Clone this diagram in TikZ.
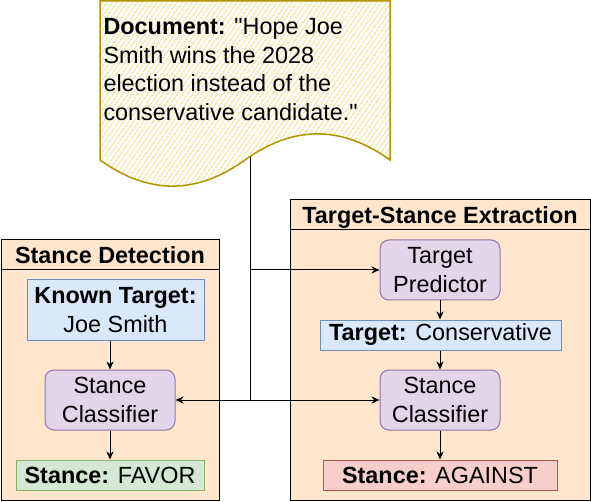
\documentclass[tikz,border=0pt]{standalone}
\usepackage{fontspec}
\setmainfont{Liberation Sans}[Ligatures=TeXOff]
\usetikzlibrary{arrows.meta,patterns.meta}
\definecolor{docstroke}{HTML}{B09500}
\definecolor{dochatch}{HTML}{EEDA6A}
\definecolor{panel}{HTML}{FFE6CC}
\definecolor{bluef}{HTML}{DAE8FC}\definecolor{blues}{HTML}{6C8EBF}
\definecolor{purf}{HTML}{E1D5E7}\definecolor{purs}{HTML}{9673A6}
\definecolor{greenf}{HTML}{D5E8D4}\definecolor{greens}{HTML}{82B366}
\definecolor{redf}{HTML}{F8CECC}\definecolor{reds}{HTML}{B85450}
\begin{document}
\begin{tikzpicture}[x=1pt,y=-1pt,line width=1pt,
  every node/.style={font=\fontsize{23.4}{28.7}\selectfont,inner sep=0pt,align=center},
  panelbox/.style={draw=black,fill=panel},
  headbox/.style={draw=black,fill=panel,font=\fontsize{23.4}{28.7}\selectfont\bfseries,text depth=0pt},
  proc/.style={draw=purs,fill=purf,rounded corners=9pt,minimum width=#1,minimum height=60pt},
  tbox/.style={draw=blues,fill=bluef},
  gbox/.style={draw=greens,fill=greenf},
  rbox/.style={draw=reds,fill=redf},
  arr/.style={-{Stealth[length=8pt,width=7pt,inset=2.5pt]},line width=1pt}]
\useasboundingbox (0,0) rectangle (591,502);
\fill[white] (0,0) rectangle (591,502);
% panels
\node[panelbox,minimum width=218pt,minimum height=260pt] (sdpanel) at (110,370) {};
\node[headbox,minimum width=218pt,minimum height=30pt] (sdhead) at (110,255) {Stance Detection};
\node[panelbox,minimum width=300pt,minimum height=300pt] (tspanel) at (440,350) {};
\node[headbox,minimum width=300pt,minimum height=30pt] (tshead) at (440,215) {Target-Stance Extraction};
% document
\path[pattern={Lines[angle=55,distance=4pt,line width=1.1pt]},pattern color=dochatch]
  (100,1) -- (390,1) -- (390,160) .. controls (341.67,125.2) and (293.33,125.2) .. (245,160)
  .. controls (196.67,194.8) and (148.33,194.8) .. (100,160) -- cycle;
\draw[docstroke,line width=1.5pt]
  (100,1) -- (390,1) -- (390,160) .. controls (341.67,125.2) and (293.33,125.2) .. (245,160)
  .. controls (196.67,194.8) and (148.33,194.8) .. (100,160) -- cycle;
\node[anchor=north west,align=left] (doc) at (103,18)
  {\textbf{Document:} "Hope Joe\\Smith wins the 2028\\election instead of the\\conservative candidate."};
\coordinate (docb) at (250,157);
% left
\node[tbox,minimum width=177pt,minimum height=60pt] (kt) at (115.5,310) {\textbf{Known Target:}\\Joe Smith};
\node[proc=130pt] (sc1) at (110,400) {Stance\\Classifier};
\node[gbox,minimum width=188pt,minimum height=30pt] (fav) at (110,475) {\textbf{Stance:} FAVOR};
% right
\node[proc=120pt] (tp) at (440,270) {Target\\Predictor};
\node[tbox,minimum width=241pt,minimum height=30pt] (tgt) at (440.5,335) {\textbf{Target:} Conservative};
\node[proc=120pt] (sc2) at (440,400) {Stance\\Classifier};
\node[rbox,minimum width=234pt,minimum height=30pt] (ag) at (440,475) {\textbf{Stance:} AGAINST};
% connectors
\coordinate (j1) at (250,270);
\coordinate (j2) at (250,400);
\draw[arr] (docb) -- (j1) -- (tp.west);
\draw[arr] (j1) -- (j2) -- (sc1.east);
\draw[arr] (j2) -- (sc2.west);
\draw[arr] (sc1.north |- kt.south) -- (sc1.north);
\draw[arr] (sc1.south) -- (fav.north);
\draw[arr] (tp.south) -- (tp.south |- tgt.north);
\draw[arr] (tp.south |- tgt.south) -- (sc2.north);
\draw[arr] (sc2.south) -- (ag.north);
\end{tikzpicture}
\end{document}
